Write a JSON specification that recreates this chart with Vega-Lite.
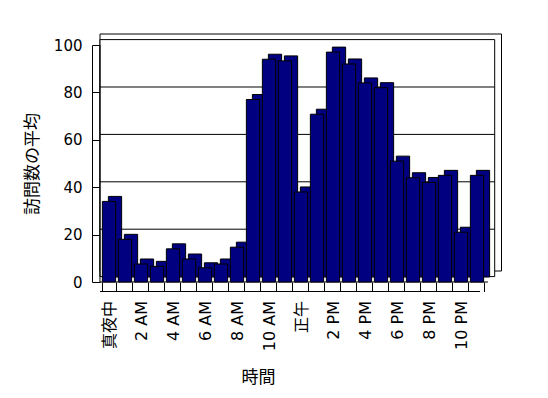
{
  "$schema": "https://vega.github.io/schema/vega-lite/v6.json",
  "width": 388,
  "height": 237,
  "autosize": {"type": "none"},
  "padding": {"left": 100, "top": 45, "right": 60, "bottom": 116},
  "background": "white",
  "config": {
    "view": {"stroke": null},
    "axisY": {
      "orient": "left", "offset": 8, "tickSize": -8, "values": [0, 20, 40, 60, 80, 100],
      "grid": false, "domainColor": "black", "tickColor": "black",
      "labelFont": "DejaVu Sans", "labelFontSize": 15, "labelColor": "black", "labelPadding": 18,
      "titleFont": "Noto Sans CJK JP", "titleFontSize": 17, "titleFontWeight": "normal", "titleColor": "black", "titlePadding": 12
    },
    "axisX": {
      "domain": false, "tickBand": "extent", "tickSize": 9.5, "tickColor": "black",
      "labelAngle": -90, "labelFont": "DejaVu Sans, Noto Sans CJK JP", "labelFontSize": 16, "labelColor": "#000000",
      "labelPadding": 9, "labelOverlap": false, "labelBound": false,
      "labelExpr": "indexof(['1 AM','3 AM','5 AM','7 AM','9 AM','11 AM','1 PM','3 PM','5 PM','7 PM','9 PM','11 PM'], datum.label) >= 0 ? '' : datum.label",
      "titleFont": "Noto Sans CJK JP", "titleFontSize": 17, "titleFontWeight": "normal", "titleColor": "black",
      "titleX": 158, "titleY": 87, "titleBaseline": "top"
    }
  },
  "datasets": {
    "visits": [
      {"時間": "真夜中", "訪問数の平均": 34},
      {"時間": "1 AM", "訪問数の平均": 18},
      {"時間": "2 AM", "訪問数の平均": 7.6},
      {"時間": "3 AM", "訪問数の平均": 6.6},
      {"時間": "4 AM", "訪問数の平均": 14},
      {"時間": "5 AM", "訪問数の平均": 9.7},
      {"時間": "6 AM", "訪問数の平均": 6},
      {"時間": "7 AM", "訪問数の平均": 7.6},
      {"時間": "8 AM", "訪問数の平均": 14.7},
      {"時間": "9 AM", "訪問数の平均": 77},
      {"時間": "10 AM", "訪問数の平均": 94},
      {"時間": "11 AM", "訪問数の平均": 93.3},
      {"時間": "正午", "訪問数の平均": 38},
      {"時間": "1 PM", "訪問数の平均": 70.8},
      {"時間": "2 PM", "訪問数の平均": 97},
      {"時間": "3 PM", "訪問数の平均": 92},
      {"時間": "4 PM", "訪問数の平均": 84},
      {"時間": "5 PM", "訪問数の平均": 82},
      {"時間": "6 PM", "訪問数の平均": 51},
      {"時間": "7 PM", "訪問数の平均": 44},
      {"時間": "8 PM", "訪問数の平均": 42},
      {"時間": "9 PM", "訪問数の平均": 45},
      {"時間": "10 PM", "訪問数の平均": 21},
      {"時間": "11 PM", "訪問数の平均": 45}
    ],
    "wall": [{"lo": 0, "hi": 100}],
    "grid": [{"v": 20}, {"v": 40}, {"v": 60}, {"v": 80}]
  },
  "layer": [
    {
      "data": {"name": "wall"},
      "mark": {"type": "rect", "fill": "white", "stroke": "black", "strokeWidth": 1, "xOffset": 13.5, "x2Offset": 13.5, "yOffset": -11, "y2Offset": -11},
      "encoding": {
        "y": {"field": "lo", "type": "quantitative", "scale": {"domain": [0, 100], "nice": false}, "title": "訪問数の平均"},
        "y2": {"field": "hi"}
      }
    },
    {
      "data": {"name": "wall"},
      "mark": {"type": "rect", "fill": "white", "stroke": "black", "strokeWidth": 1, "xOffset": 6.7, "x2Offset": 6.7, "yOffset": -5.4, "y2Offset": -5.4},
      "encoding": {
        "y": {"field": "lo", "type": "quantitative", "title": "訪問数の平均"},
        "y2": {"field": "hi"}
      }
    },
    {
      "data": {"name": "grid"},
      "mark": {"type": "rule", "stroke": "black", "strokeWidth": 1, "xOffset": 6.7, "x2Offset": 6.7, "yOffset": -5.4},
      "encoding": {
        "y": {"field": "v", "type": "quantitative", "title": "訪問数の平均"}
      }
    },
    {
      "data": {"name": "wall"},
      "mark": {"type": "rule", "stroke": "black", "strokeWidth": 1},
      "encoding": {
        "y": {"field": "lo", "type": "quantitative", "title": "訪問数の平均"}
      }
    },
    {
      "data": {"name": "wall"},
      "mark": {"type": "rule", "stroke": "black", "strokeWidth": 1, "yOffset": 9.5, "xOffset": -8},
      "encoding": {
        "y": {"field": "lo", "type": "quantitative", "title": "訪問数の平均"}
      }
    },
    {
      "data": {"name": "visits"},
      "mark": {"type": "bar", "fill": "#000080", "stroke": "black", "strokeWidth": 1, "xOffset": 6, "x2Offset": 6, "yOffset": -5, "y2Offset": -5},
      "encoding": {
        "x": {"field": "時間", "type": "nominal", "sort": null, "scale": {"range": [1, 385], "paddingInner": 0.17, "paddingOuter": 0.085}, "title": "時間"},
        "y": {"field": "訪問数の平均", "type": "quantitative", "title": "訪問数の平均"}
      }
    },
    {
      "data": {"name": "visits"},
      "mark": {"type": "bar", "fill": "#000080", "stroke": "black", "strokeWidth": 1},
      "encoding": {
        "x": {"field": "時間", "type": "nominal", "sort": null, "title": "時間"},
        "y": {"field": "訪問数の平均", "type": "quantitative", "title": "訪問数の平均"}
      }
    },
    {
      "data": {"name": "wall"},
      "mark": {"type": "rule", "stroke": "black", "strokeWidth": 1, "xOffset": -2.4, "x2Offset": -2.4},
      "encoding": {
        "x": {"datum": "真夜中", "type": "nominal", "bandPosition": 0},
        "y": {"field": "lo", "type": "quantitative", "title": "訪問数の平均"},
        "y2": {"field": "hi"}
      }
    }
  ]
}
